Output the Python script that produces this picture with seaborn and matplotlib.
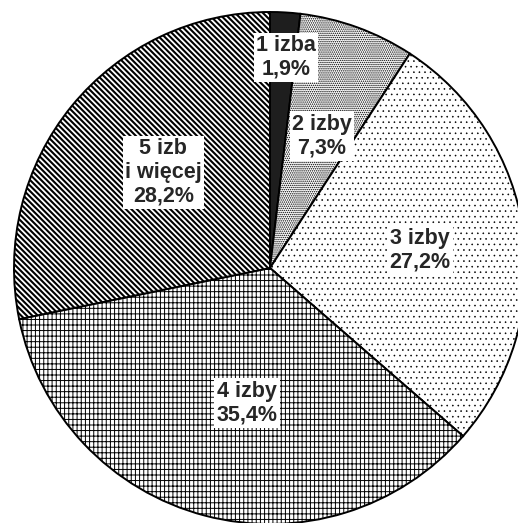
import matplotlib
matplotlib.use('Agg')
import matplotlib.pyplot as plt
import seaborn as sns
import numpy as np

# udzial mieszkan wg liczby izb
categories = ['1 izba', '2 izby', '3 izby', '4 izby', '5 izb\ni więcej']
shares = [1.9, 7.3, 27.2, 35.4, 28.2]
share_labels = ['1,9%', '7,3%', '27,2%', '35,4%', '28,2%']

sns.set_style('white')
plt.rcParams['font.family'] = ['Liberation Sans', 'DejaVu Sans']

hatches = ['', '........', '...', '||||---', '\\' * 6]
hatch_lw = [1.0, 0.7, 0.4, 0.7, 1.5]
faces = ['#1e1e1e', 'white', 'white', 'white', 'white']
# polozenie etykiet: odleglosc od srodka i przesuniecie katowe
label_dist = [0.826, 0.554, 0.59, 0.535, 0.559]
label_shift = [-0.9, -1.5, -1.2, 5.1, -2.6]

fig = plt.figure(figsize=(5.18, 5.23), dpi=100)
ax = fig.add_axes([14 / 518, (523 - 268 - 256) / 523, 512 / 518, 512 / 523])

wedges, _ = ax.pie(shares, startangle=90, counterclock=False, radius=1,
                   colors=faces,
                   wedgeprops=dict(edgecolor='black', linewidth=1.4))
for w, h, lw in zip(wedges, hatches, hatch_lw):
    w.set_hatch(h)
    if hasattr(w, 'set_hatch_linewidth'):
        w.set_hatch_linewidth(lw)
    else:
        w._hatch_linewidth = lw

for w, cat, lab, d, s in zip(wedges, categories, share_labels, label_dist, label_shift):
    ang = np.deg2rad((w.theta1 + w.theta2) / 2 + s)
    ax.text(d * np.cos(ang), d * np.sin(ang), f'{cat}\n{lab}',
            ha='center', va='center', fontsize=15.5, fontweight='bold',
            linespacing=1.18,
            bbox=dict(facecolor='white', edgecolor='none', pad=1.5))

ax.set_xlim(-1, 1)
ax.set_ylim(-1, 1)
ax.axis('off')

fig.savefig('out.png', dpi=100)
